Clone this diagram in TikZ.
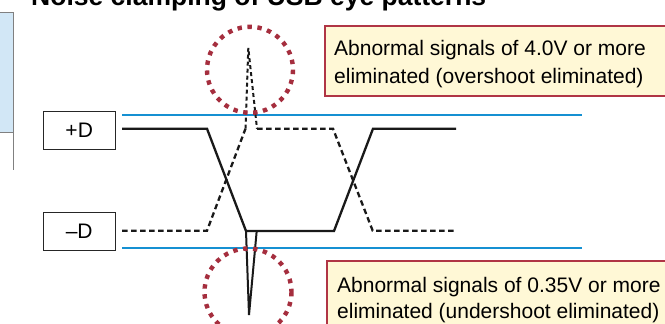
\documentclass[tikz,border=0pt]{standalone}
\usepackage{fontspec}
\setmainfont{Liberation Sans}
\definecolor{cream}{HTML}{FFF8D6}
\definecolor{callred}{HTML}{B03545}
\definecolor{dotred}{HTML}{A52E3E}
\definecolor{levelblue}{HTML}{1590D2}
\definecolor{paleblue}{HTML}{D2E7F6}
\definecolor{framegray}{HTML}{808080}
\begin{document}
\begin{tikzpicture}[x=1pt,y=-1pt,
  bodyfont/.style={font=\fontsize{21}{25}\selectfont},
  labelbox/.style={draw=black!85,line width=0.9pt,minimum width=72pt,minimum height=38pt,inner sep=0pt,bodyfont},
  calltext/.style={anchor=base west,inner sep=0pt,bodyfont},
  callout/.style={fill=cream,draw=callred,line width=2pt},
  levelline/.style={draw=levelblue,line width=2.3pt},
  wavesolid/.style={draw=black!90,line width=2.3pt,line join=miter},
  wavedash/.style={draw=black!90,line width=2.3pt,dash pattern=on 5.5pt off 3.5pt},
  spikesolid/.style={draw=black!90,line width=2pt},
  spikedash/.style={draw=black!90,line width=2pt,dash pattern=on 4pt off 3pt},
  dotcircle/.style={draw=dotred,line width=4.4pt,dash pattern=on 4.4pt off 5.6pt}]
\useasboundingbox (0,0) rectangle (665,324);
\clip (0,0) rectangle (665,324);
\fill[white] (0,0) rectangle (665,324);

% left partial box
\fill[paleblue] (-5,12.7) rectangle (13.3,132.7);
\draw[framegray,line width=0.9pt] (-5,12.7) -- (13.3,12.7) -- (13.3,170);
\draw[framegray,line width=0.9pt] (-5,132.7) -- (13.3,132.7);

% title (cut at top, as in the reference)
\node[anchor=base west,inner sep=0pt,font=\bfseries\fontsize{26.5}{30}\selectfont] (title) at (31,5.5) {Noise clamping of USB eye patterns};

% callouts
\draw[callout] (680,26) -- (325,26) -- (325,96) -- (680,96);
\node[calltext] (ov1) at (334,56) {Abnormal signals of 4.0V or more};
\node[calltext] (ov2) at (334,83) {eliminated (overshoot eliminated)};
\draw[callout] (680,340) -- (327,340) -- (327,261) -- (680,261);
\node[calltext] (un1) at (337,292) {Abnormal signals of 0.35V or more};
\node[calltext] (un2) at (337,318) {eliminated (undershoot eliminated)};

% label boxes
\node[labelbox] (plusD) at (79.2,130) {+D};
\node[labelbox] (minusD) at (79.2,231) {–D};

% level lines
\coordinate (hiL) at (122,115);
\coordinate (hiR) at (581.5,115);
\coordinate (loL) at (122,247.7);
\coordinate (loR) at (581.5,247.7);
\draw[levelline] (hiL) -- (hiR);
\draw[levelline] (loL) -- (loR);

% +D solid waveform
\coordinate (s0) at (122,128.7);
\coordinate (s1) at (207,128.7);
\coordinate (s2) at (246,231);
\coordinate (s3) at (334,231);
\coordinate (s4) at (373,128.7);
\coordinate (s5) at (456,128.7);
\draw[wavesolid] (s0) -- (s1) -- (s2) -- (s3) -- (s4) -- (s5);
% undershoot spike
\coordinate (u1) at (249,315);
\coordinate (u2) at (256.7,231);
\draw[spikesolid,line join=miter] (s2) -- (u1) -- (u2);

% -D dashed waveform
\coordinate (d0) at (122,230.7);
\coordinate (d1) at (207,230.7);
\coordinate (d2) at (245.5,128.7);
\coordinate (d3) at (257,128.7);
\coordinate (d4) at (333,128.7);
\coordinate (d5) at (372.7,230.7);
\coordinate (d6) at (455,230.7);
\draw[wavedash] (d0) -- (d1) -- (d2);
\draw[wavedash] (d3) -- (d4) -- (d5) -- (d6);
% overshoot spike
\coordinate (o1) at (248.3,48);
\draw[spikedash] (d2) -- (o1) -- (d3);

% dotted circles
\coordinate (c1) at (250,69.8);
\coordinate (c2) at (248,292);
\draw[dotcircle] (c1) circle[radius=43];
\draw[dotcircle] (c2) circle[radius=43.5];
\end{tikzpicture}
\end{document}
